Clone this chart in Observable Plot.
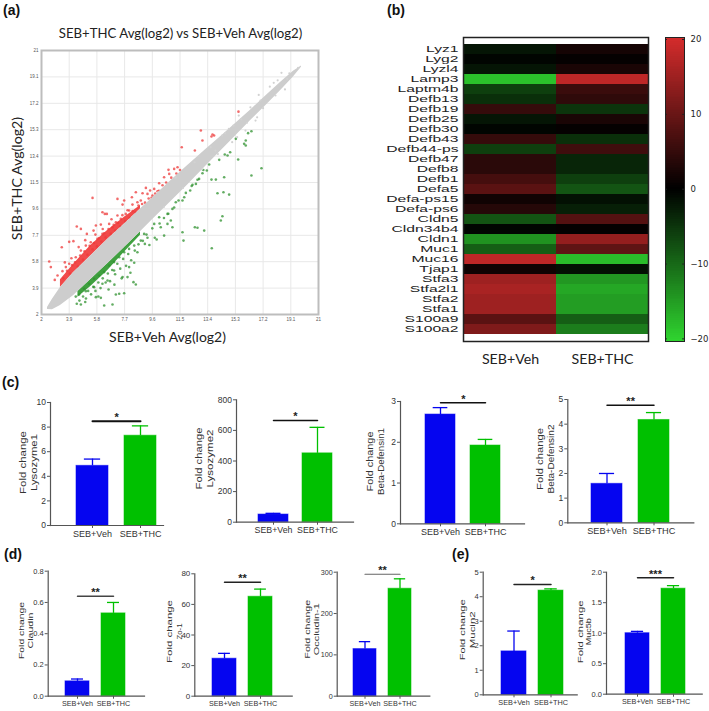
<!DOCTYPE html>
<html><head><meta charset="utf-8">
<script src="https://cdn.jsdelivr.net/npm/d3@7"></script>
<script src="https://cdn.jsdelivr.net/npm/@observablehq/plot@0.6"></script>
<style>
html,body{margin:0;padding:0;background:#fff;overflow:hidden}
#page{position:relative;width:709px;height:711px;overflow:hidden}
#page svg{position:absolute;background:transparent}
.letter{position:absolute;font:bold 14px "Liberation Sans",sans-serif;color:#111;line-height:14px}
</style></head><body><div id="page"></div>
<script>
// ---------- panel (a): scatter values, axis units log2 ----------
const scatterTicks=[2,3.9,5.8,7.7,9.6,11.5,13.4,15.3,17.2,19.1,21];
const cloudX=[2.41,2.75,3.30,4.19,5.36,6.53,7.62,8.79,9.68,10.85,12.01,13.25,14.28,15.31,16.33,17.36,18.39,19.28,19.83];
const cloudLow=[2.36,2.35,2.65,3.35,4.5,5.65,6.75,7.95,8.9,10.1,11.3,12.65,13.75,14.85,15.95,17.0,18.1,19.1,19.8];
const cloudHigh=[2.50,3.10,3.95,5.0,6.2,7.4,8.45,9.6,10.45,11.6,12.7,13.85,14.8,15.75,16.7,17.7,18.7,19.5,19.88];
const upDenseX=[3.3,4.19,5.36,6.53,7.62,8.79];
const upDenseLow=[3.95,5.0,6.2,7.4,8.45,9.6];
const upDenseHigh=[4.5,5.6,6.95,8.05,8.95,9.85];
const downDenseX=[4.5,5.36,6.53,7.62,8.79];
const downDenseHigh=[3.65,4.5,5.65,6.75,7.95];
const downDenseLow=[3.25,4.0,5.15,6.4,7.7];
const redPoints=[[2.53,5.81],[2.64,5.41],[3.39,6.84],[3.90,7.23],[4.19,7.28],[4.42,8.33],[4.70,8.16],[5.50,10.39],[5.11,7.80],[5.57,8.04],[5.73,8.40],[6.07,8.47],[6.34,9.24],[6.18,9.36],[6.48,9.24],[7.21,10.32],[7.67,10.20],[7.56,9.91],[8.20,10.44],[8.47,10.80],[9.16,11.11],[8.93,10.73],[9.27,10.68],[10.07,11.45],[10.41,11.88],[10.71,12.41],[11.10,12.48],[11.33,12.60],[11.62,14.04],[10.76,12.12],[12.52,13.80],[12.93,15.24],[13.04,14.52],[13.73,14.95],[13.84,14.88],[13.66,14.81],[15.51,16.60],[9.73,11.04],[9.45,10.92],[9.96,10.87],[9.61,10.56],[8.58,10.08],[8.24,9.91],[8.81,10.20],[8.01,9.48],[7.78,9.24],[7.44,8.88],[7.21,9.12],[7.10,8.64],[6.87,8.28],[6.64,8.52],[6.18,7.80],[5.84,7.44],[5.38,7.20],[5.04,6.96],[4.70,6.60],[4.35,6.12],[3.90,5.65],[3.67,5.41],[3.10,4.81],[2.91,4.49],[3.44,5.12],[3.5,4.6],[3.75,5.15],[3.95,4.95],[4.1,5.55],[4.3,5.75],[4.5,5.45],[4.65,6.25],[4.85,5.95],[4.95,6.55],[5.15,6.3],[5.3,6.95],[5.5,6.7],[5.6,7.15],[5.8,6.9],[5.95,7.5],[6.1,7.25],[6.3,7.85],[6.4,7.55],[6.6,8.15],[6.75,7.8],[6.95,8.45],[7.05,8.05],[7.25,8.6],[7.4,8.35],[7.55,9.15],[7.75,8.7],[7.9,9.5],[8.05,8.95],[8.25,9.45],[8.45,9.35],[8.65,9.85],[8.9,9.95],[9.1,10.05],[9.35,10.35],[9.55,10.4],[9.8,10.7],[10.05,10.9],[10.3,11.3],[10.55,11.5],[10.9,11.85],[11.25,12.15],[11.5,12.4],[4.05,6.05],[4.55,6.85],[5.0,7.35],[5.7,7.75],[6.2,8.15],[6.8,8.85],[3.6,5.75]];
const greenPoints=[[4.42,2.77],[4.70,2.72],[5.73,3.25],[6.07,3.20],[6.30,2.65],[6.87,2.72],[7.10,3.44],[7.67,3.53],[7.33,3.49],[8.47,4.16],[8.31,4.33],[7.56,4.69],[7.90,4.69],[8.36,5.72],[8.01,5.41],[6.98,5.17],[6.53,4.45],[6.18,4.21],[5.61,3.97],[5.04,3.68],[9.27,7.52],[9.09,7.08],[9.77,7.52],[10.41,7.68],[10.64,8.52],[10.87,8.76],[10.98,8.28],[11.74,7.32],[11.67,7.92],[12.52,8.28],[12.70,8.24],[13.16,8.04],[13.68,6.77],[14.30,8.76],[14.41,9.07],[14.07,10.73],[14.48,10.80],[14.87,10.63],[13.66,11.71],[13.96,11.71],[14.53,11.88],[16.40,12.00],[17.09,12.53],[15.49,13.15],[14.76,13.44],[14.57,13.51],[14.94,13.68],[14.19,13.13],[13.34,12.36],[13.04,12.17],[12.81,11.76],[12.59,11.40],[12.36,11.33],[12.20,10.92],[11.79,10.44],[11.67,10.20],[11.21,10.08],[10.98,9.60],[10.64,9.24],[10.07,9.00],[9.73,8.52],[10.18,8.28],[9.04,7.80],[8.81,7.32],[8.36,6.96],[8.58,6.48],[8.01,6.72],[7.67,6.48],[7.33,6.12],[6.98,5.77],[6.64,5.53],[6.30,5.05],[5.95,4.81],[5.61,4.57],[5.27,4.21],[4.93,3.85],[4.58,3.44],[4.35,3.29],[16.01,14.52],[15.90,14.28],[16.01,14.16],[16.17,15.05],[16.40,15.19],[15.33,14.64],[4.6,3.0],[4.85,3.3],[5.05,3.15],[5.2,3.7],[5.4,3.45],[5.55,4.0],[5.7,3.7],[5.9,4.3],[6.05,3.9],[6.2,4.6],[6.4,4.3],[6.55,4.95],[6.7,4.4],[6.85,5.2],[7.05,4.9],[7.2,5.65],[7.4,5.3],[7.6,6.0],[7.8,5.5],[7.95,6.35],[8.15,5.9],[8.4,6.6],[8.65,7.05],[8.95,7.3],[9.2,7.75],[9.4,7.0],[9.6,8.2],[9.9,7.4],[10.1,8.55],[10.4,8.95],[10.7,9.25],[11.1,9.7],[11.4,10.2],[11.9,10.75],[12.3,11.25],[12.7,11.7],[13.1,12.4],[13.5,12.8],[5.0,2.9],[5.9,3.3],[6.6,3.8],[7.0,4.15],[7.5,4.6],[8.1,5.0]];
const grayPoints=[[18.46,19.39],[18.85,18.96],[17.93,18.67],[17.66,18.40],[17.02,17.40],[18.05,17.76],[16.33,16.91],[16.79,16.19],[15.53,16.32],[15.17,15.60],[16.68,15.96],[14.85,15.36],[15.99,15.24],[15.42,14.76],[14.39,14.88],[13.93,13.80],[15.08,14.40],[19.6,19.75],[19.0,19.35],[18.7,18.2],[18.2,18.85],[17.2,16.85],[16.9,17.8],[16.1,15.8],[15.7,16.05],[14.6,15.05],[14.1,13.55],[13.6,14.05],[13.0,12.45],[12.5,12.95],[11.7,11.1],[11.2,11.85],[10.4,9.75],[10.0,10.8]];

// ---------- panel (b): heatmap ----------
const genes=["Lyz1","Lyg2","Lyzl4","Lamp3","Laptm4b","Defb13","Defb19","Defb25","Defb30","Defb43","Defb44-ps","Defb47","Defb8","Defb1","Defa5","Defa-ps15","Defa-ps6","Cldn5","Cldn34b4","Cldn1","Muc1","Muc16","Tjap1","Stfa3","Stfa2l1","Stfa2","Stfa1","S100a9","S100a2"];
const vehHeat=[-2,-0.5,-2,-18.5,-6,-4.5,5,-2,-0.5,5,-6,4,4,6.5,8.5,1.5,3.5,-8,-0.5,-14,-9,18,1.5,15,16,15,15,8.5,12];
const thcHeat=[2,0.5,2.5,18,5.5,4.5,-5,2.5,0.5,-4.5,6,-3.5,-3.5,-6,-8,-1.5,-3,8,0.5,14,9,-18,-1.5,-14.5,-16,-15,-15,-9,-12];
const heatGroups=["SEB+Veh","SEB+THC"];
const barTicks=[-20,-10,0,10,20];

// ---------- panels (c,d,e): bars ----------
const groups=["SEB+Veh","SEB+THC"];
const lyz1Mean=[4.85,7.3], lyz1Upper=[5.4,8.1];
const lyz2Mean=[50,450], lyz2Upper=[58,620];
const bd1Mean=[2.68,1.92], bd1Upper=[2.85,2.07];
const bd2Mean=[1.58,4.17], bd2Upper=[2.0,4.47];
const cldMean=[0.095,0.53], cldUpper=[0.11,0.60];
const zoMean=[24.5,65], zoUpper=[28,70];
const occMean=[114,260], occUpper=[132,284];
const mucin2Mean=[1.77,4.25], mucin2Upper=[2.6,4.32];
const muc5bMean=[1.0,1.73], muc5bUpper=[1.03,1.78];

const page=document.getElementById("page");
function place(svg,left,top){svg.style.left=left+"px";svg.style.top=top+"px";page.appendChild(svg);return svg;}
function letter(t,x,y){const d=document.createElement("div");d.className="letter";d.textContent=t;d.style.left=x+"px";d.style.top=y+"px";page.appendChild(d);}
letter("(a)",3,3);letter("(b)",387,3);letter("(c)",2,375);letter("(d)",4,547);letter("(e)",452,547);

// stretch real text along its baseline so that its drawn length matches the picture
function stretch(svg,cls,target){
  svg.querySelectorAll("."+cls+" text").forEach(t=>{
    const want=typeof target==="number"?target/t.getComputedTextLength():target(t);
    t.setAttribute("transform",(t.getAttribute("transform")||"")+` scale(${want},1)`);
  });
}
const toRows=(xs,a,b)=>xs.map((x,i)=>({x,a:a[i],b:b[i]}));
const toPts=a=>a.map(([x,y])=>({x,y}));
const SF="Lato, 'Open Sans', sans-serif";

// scatter
place(Plot.plot({
  width:340,height:345,marginLeft:41,marginRight:22,marginTop:50,marginBottom:31,
  style:{background:"transparent",fontFamily:"Liberation Sans"},
  x:{domain:[2,21]},y:{domain:[2,21]},
  marks:[
    Plot.gridX(scatterTicks,{stroke:"#e8e8e8",strokeOpacity:1}),
    Plot.gridY(scatterTicks,{stroke:"#e8e8e8",strokeOpacity:1}),
    Plot.areaY(toRows(upDenseX,upDenseLow,upDenseHigh),{x:"x",y1:"a",y2:"b",fill:"#ee2a2a",fillOpacity:.85}),
    Plot.areaY(toRows(downDenseX,downDenseLow,downDenseHigh),{x:"x",y1:"a",y2:"b",fill:"#1f8f1f",fillOpacity:.85}),
    Plot.dot(toPts(redPoints),{x:"x",y:"y",r:1.3,fill:"#ee3a3a",fillOpacity:.75}),
    Plot.dot(toPts(greenPoints),{x:"x",y:"y",r:1.3,fill:"#2f922f",fillOpacity:.75}),
    Plot.areaY(toRows(cloudX,cloudLow,cloudHigh),{x:"x",y1:"a",y2:"b",fill:"#cdcdcd"}),
    Plot.dot(toPts(grayPoints),{x:"x",y:"y",r:1.1,fill:"#d2d2d2"}),
    Plot.frame({stroke:"#bdbdbd",strokeWidth:2}),
    Plot.axisX({ticks:scatterTicks,tickSize:0,tickPadding:3,fontSize:4.5,fill:"#555",label:null,tickFormat:d=>d}),
    Plot.axisY({ticks:scatterTicks,tickSize:0,tickPadding:3,fontSize:4.5,fill:"#555",label:null,tickFormat:d=>d}),
    Plot.text(["SEB+THC Avg(log2) vs SEB+Veh Avg(log2)"],{frameAnchor:"top-left",dx:139,dy:-17,textAnchor:"middle",lineAnchor:"middle",fontFamily:SF,fontSize:13.2,fill:"#222"}),
    Plot.text(["SEB+Veh Avg(log2)"],{frameAnchor:"top-left",dx:126,dy:287,textAnchor:"middle",lineAnchor:"middle",fontFamily:SF,fontSize:14,fill:"#222"}),
    Plot.text(["SEB+THC Avg(log2)"],{frameAnchor:"top-left",dx:-24,dy:128,rotate:-90,textAnchor:"middle",lineAnchor:"middle",fontFamily:SF,fontSize:14.2,fill:"#222"})
  ]
}),0,0);

// heatmap
const heatRows=genes.flatMap((g,i)=>[{g,s:heatGroups[0],v:vehHeat[i]},{g,s:heatGroups[1],v:thcHeat[i]}]);
const heatColor={type:"linear",domain:[-20.3,0,20.3],range:["#2fd42f","#000000","#d62c2c"]};
const heat=place(Plot.plot({
  width:272,height:350,marginLeft:83,marginRight:4,marginTop:17,marginBottom:29,
  style:{background:"transparent",fontFamily:"Liberation Sans"},
  x:{domain:heatGroups,padding:0,axis:null},
  y:{domain:genes,padding:0,label:null},
  color:heatColor,
  marks:[
    Plot.cell(heatRows,{x:"s",y:"g",fill:"v",shapeRendering:"crispEdges"}),
    Plot.frame({stroke:"#222",strokeWidth:1.5}),
    Plot.axisY({tickSize:0,tickPadding:5,fontSize:9,fill:"#222",label:null,className:"gene"}),
    Plot.text(heatGroups,{x:d=>d,frameAnchor:"bottom",dy:18,lineAnchor:"middle",textAnchor:"middle",fontFamily:SF,fontSize:14.2,fill:"#222"})
  ]
}),380,20);
stretch(heat,"gene",()=>1.74);

// colour bar (a legend: its steps only sample the colour scale)
const ramp=d3.range(-20.3,20.27,0.25);
place(Plot.plot({
  width:57,height:350,marginLeft:13,marginRight:25,marginTop:17,marginBottom:29,
  style:{background:"transparent",fontFamily:"DejaVu Sans"},
  x:{domain:[0,1],axis:null},
  y:{domain:[-20.35,20.27],label:null},
  color:heatColor,
  marks:[
    Plot.rect(ramp,{x1:0,x2:1,y1:d=>d,y2:d=>Math.min(d+0.5,20.27),fill:d=>d+0.125,shapeRendering:"crispEdges"}),
    Plot.frame({stroke:"#222",strokeWidth:1}),
    Plot.ruleY(barTicks,{x1:0,x2:0.1,stroke:"#222"}),
    Plot.ruleY(barTicks,{x1:0.9,x2:1,stroke:"#222"}),
    Plot.axisY({anchor:"right",ticks:barTicks,tickSize:0,tickPadding:6,fontSize:8.5,fill:"#222",label:null})
  ]
}),652,20);

// bar panels: the layout table holds placement only, the values come from the arrays above
const panels=[
 {mean:lyz1Mean,upper:lyz1Upper,ticks:[0,2,4,6,8,10],max:10,sig:8.48,stars:"*",name:"Lysozyme1",L:50,R:163,top:402,y0:525,b:[76,107.5],g:[124,156],lab:[22,33.5,462],fs:9,tfs:8.5,sw:2,sc:"#111",lfs:9.5,w1:63,w2:57},
 {mean:lyz2Mean,upper:lyz2Upper,ticks:[0,200,400,600,800],max:800,sig:665,stars:"*",name:"Lysozyme2",L:236,R:353,top:399.3,y0:521.7,b:[258.3,288.3],g:[302.3,332.3],lab:[198,209,458],fs:8.8,tfs:8.5,sw:1.5,sc:"#111",lfs:9.5,w1:62,w2:58},
 {mean:bd1Mean,upper:bd1Upper,ticks:[0,1,2,3],max:3,sig:2.97,stars:"*",name:"Beta-Defensin1",L:400,R:524,top:401,y0:523.3,b:[424.3,455],g:[470,500.7],lab:[369,380.7,461],fs:9,tfs:8.5,sw:1.5,sc:"#111",lfs:9.5,w1:60,w2:67},
 {mean:bd2Mean,upper:bd2Upper,ticks:[0,1,2,3,4,5],max:5,sig:4.77,stars:"**",name:"Beta-Defensin2",L:567.3,R:693.3,top:399,y0:522.3,b:[591,622.7],g:[638.3,670],lab:[539.3,550.7,458.5],fs:9.2,tfs:8.5,sw:1.5,sc:"#111",lfs:9.5,w1:62,w2:69},
 {mean:cldMean,upper:cldUpper,ticks:[0,0.2,0.4,0.6,0.8],max:0.8,fmt:"0.1f",sig:0.64,stars:"**",name:"Claudin",L:47.7,R:144,top:570.7,y0:695.7,b:[65,89],g:[101,125],lab:[20.7,30,630],fs:7.2,tfs:7.5,sw:1.5,sc:"#444",lfs:8,w1:57,w2:36},
 {mean:zoMean,upper:zoUpper,ticks:[0,20,40,60,80],max:80,sig:74.5,stars:"**",name:"Zo-1",L:194.3,R:291.7,top:573.3,y0:695.7,b:[212.3,236.7],g:[248.3,272.7],lab:[169.3,179,631],fs:7.2,tfs:8,sw:1.5,sc:"#222",lfs:8,w1:63,w2:16},
 {mean:occMean,upper:occUpper,ticks:[0,100,200,300],max:300,sig:295,stars:"**",name:"Occludin-1",L:336.7,R:429.3,top:571.7,y0:695.7,b:[353.3,376.7],g:[388.7,411.7],lab:[306.7,316,628.7],fs:7.2,tfs:7.2,sw:1.2,sc:"#666",lfs:8,w1:59,w2:52},
 {mean:mucin2Mean,upper:mucin2Upper,ticks:[0,1,2,3,4,5],max:5,sig:4.5,stars:"*",name:"Mucin2",L:482.7,R:576.7,top:571.7,y0:694.3,b:[501,526],g:[538.3,563.3],lab:[461.7,471.7,629.3],fs:7.3,tfs:7.5,sw:1.5,sc:"#222",lfs:8,w1:61,w2:37},
 {mean:muc5bMean,upper:muc5bUpper,ticks:[0,0.5,1,1.5,2],max:2,fmt:"0.1f",sig:1.907,stars:"***",name:"Muc5b",L:606,R:701.7,top:571.7,y0:693.7,b:[624.7,648.3],g:[660.7,684.3],lab:[580,588.3,631.3],fs:7.2,tfs:7.5,sw:1.5,sc:"#222",lfs:7.2,w1:63,w2:27}
];
const colors={"SEB+Veh":"#0505f0","SEB+THC":"#00c000"};
for(const p of panels){
  const left=Math.floor(p.lab[0]-8),right=Math.ceil(p.R+7),top=Math.floor(p.top-16),bottom=Math.ceil(p.y0+20);
  const step=p.g[0]-p.b[0],bw=p.b[1]-p.b[0];
  const rows=groups.map((g,i)=>({g,m:p.mean[i],u:p.upper[i]}));
  const fmt=p.fmt?d3.format(".1f"):d=>d;
  const cap=bw*0.25, starX=(p.g[1]+p.b[0])/2-(p.b[0]+bw/2);
  const svg=place(Plot.plot({
    width:right-left,height:bottom-top,
    marginLeft:p.L-left,marginRight:right-p.R,marginTop:p.top-top,marginBottom:bottom-p.y0,
    style:{background:"transparent",fontFamily:"Liberation Sans"},
    x:{type:"band",domain:groups,range:[p.b[0]-left,p.g[1]-left],paddingInner:1-bw/step,paddingOuter:0,align:0.5,label:null},
    y:{domain:[0,p.max],label:null},
    marks:[
      Plot.barY(rows,{x:"g",y:"m",fill:d=>colors[d.g],stroke:d=>colors[d.g],strokeOpacity:.55}),
      Plot.ruleX(rows,{x:"g",y1:"m",y2:"u",stroke:d=>colors[d.g],strokeWidth:1.3}),
      Plot.tickY(rows,{x:"g",y:"u",stroke:d=>colors[d.g],strokeWidth:1.3,insetLeft:cap,insetRight:cap}),
      Plot.frame({anchor:"left",stroke:"#555",strokeWidth:1.2}),
      Plot.frame({anchor:"bottom",stroke:"#555",strokeWidth:1.2}),
      Plot.axisY({ticks:p.ticks,tickSize:3,tickPadding:1.5,fontSize:p.tfs,fill:"#333",stroke:"#555",label:null,tickFormat:fmt}),
      Plot.axisX({tickSize:3,tickPadding:2,fontSize:p.fs,fill:"#333",stroke:"#555",label:null}),
      Plot.line(groups.map(g=>({g,s:p.sig})),{x:"g",y:"s",stroke:p.sc,strokeWidth:p.sw}),
      Plot.text([p.stars],{x:()=>groups[0],y:()=>p.sig,dx:starX,dy:-8,fontSize:11,fontWeight:"bold",fill:"#222",lineAnchor:"top"}),
      Plot.text(["Fold change"],{frameAnchor:"top-left",dx:p.lab[0]-p.L,dy:p.lab[2]-p.top,rotate:-90,textAnchor:"middle",lineAnchor:"middle",fontSize:p.lfs,fill:"#333",className:"yl1"}),
      Plot.text([p.name],{frameAnchor:"top-left",dx:p.lab[1]-p.L,dy:p.lab[2]-p.top,rotate:-90,textAnchor:"middle",lineAnchor:"middle",fontSize:p.lfs,fill:"#333",className:"yl2"})
    ]
  }),left,top);
  stretch(svg,"yl1",p.w1);
  stretch(svg,"yl2",p.w2);
}
</script></body></html>
